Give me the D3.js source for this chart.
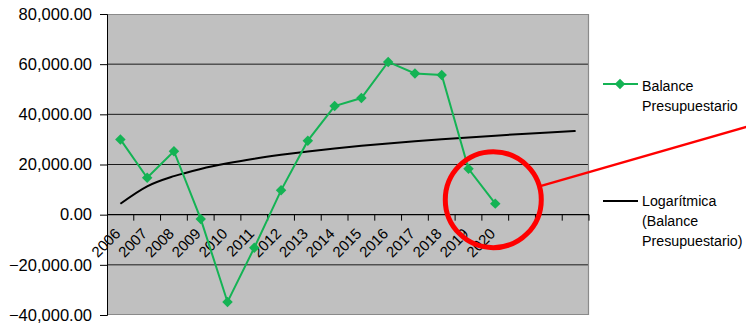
<!DOCTYPE html>
<html>
<head>
<meta charset="utf-8">
<script src="https://cdn.jsdelivr.net/npm/d3@7"></script>
<style>
  html, body { margin: 0; padding: 0; background: #fff; }
  svg { display: block; font-family: "Liberation Sans", Arial, sans-serif; }
</style>
</head>
<body>
<svg id="chart" width="746" height="325"></svg>
<script>
// Balance presupuestario por año
const years = ["2006","2007","2008","2009","2010","2011","2012","2013","2014","2015","2016","2017","2018","2019","2020"];
const balance = [30000, 14700, 25300, -1700, -34800, -13200, 9700, 29500, 43300, 46500, 60900, 56300, 55700, 18300, 4400];
// trend continues over three extra (unlabelled) periods
const extraPeriods = ["", "", ""];
const yTicks = [-40000, -20000, 0, 20000, 40000, 60000, 80000];
const seriesName = ["Balance", "Presupuestario"];
const trendName = ["Logarítmica", "(Balance", "Presupuestario)"];

const categories = years.concat(extraPeriods.map((d, i) => "p" + i));

const svg = d3.select("#chart");
const plotLeft = 107, plotRight = 589, plotTop = 14, plotBottom = 315;

const x = d3.scaleBand().domain(categories).range([plotLeft, plotRight]);
const cx = d => x(d) + x.bandwidth() / 2;
const y = d3.scaleLinear().domain([-40000, 80000]).range([plotBottom, plotTop]);

// logarithmic least-squares fit: y = a ln(t) + b, t = 1..n
const L = balance.map((_, i) => Math.log(i + 1));
const Lm = d3.mean(L), Ym = d3.mean(balance);
const slope = d3.sum(L, (l, i) => (l - Lm) * (balance[i] - Ym)) / d3.sum(L, l => (l - Lm) * (l - Lm));
const intercept = Ym - slope * Lm;
const trend = categories.map((c, i) => ({ c, v: slope * Math.log(i + 1) + intercept }));

// plot area
svg.append("rect")
  .attr("x", plotLeft).attr("y", plotTop)
  .attr("width", plotRight - plotLeft).attr("height", plotBottom - plotTop)
  .attr("fill", "#c0c0c0");

// horizontal gridlines
svg.append("g").selectAll("line")
  .data(yTicks.filter(t => t !== -40000 && t !== 80000 && t !== 0))
  .join("line")
  .attr("x1", plotLeft).attr("x2", plotRight)
  .attr("y1", d => y(d)).attr("y2", d => y(d))
  .attr("stroke", "#1a1a1a").attr("stroke-width", 1);

// top and right frame
svg.append("path")
  .attr("d", `M${plotLeft},${plotTop + 0.5}H${plotRight - 0.5}V${plotBottom}`)
  .attr("fill", "none").attr("stroke", "#8a8a8a").attr("stroke-width", 1.2);
svg.append("line")
  .attr("x1", plotLeft).attr("x2", plotRight)
  .attr("y1", plotBottom - 0.5).attr("y2", plotBottom - 0.5)
  .attr("stroke", "#8a8a8a");

// y axis
const yAxis = d3.axisLeft(y).tickValues(yTicks).tickSize(7).tickPadding(8)
  .tickFormat(d3.format(",.2f"));
const gy = svg.append("g").attr("transform", `translate(${plotLeft},0)`).call(yAxis);
gy.select(".domain").attr("stroke", "#000");
gy.selectAll(".tick line").attr("stroke", "#000");
gy.selectAll(".tick text")
  .attr("font-size", "16.5px").attr("fill", "#000")
  .attr("font-family", "Liberation Sans, Arial, sans-serif");

// x axis at zero, ticks between categories
const gx = svg.append("g").attr("transform", `translate(0,${y(0)})`);
gx.append("line").attr("x1", plotLeft).attr("x2", plotRight)
  .attr("stroke", "#000").attr("stroke-width", 1.2);
gx.selectAll("line.tk")
  .data(categories.slice(1).concat(["end"]))
  .join("line").attr("class", "tk")
  .attr("x1", d => d === "end" ? plotRight : x(d))
  .attr("x2", d => d === "end" ? plotRight : x(d))
  .attr("y1", 0).attr("y2", 6)
  .attr("stroke", "#000");
gx.selectAll("text")
  .data(years)
  .join("text")
  .attr("transform", d => `translate(${cx(d) + 1},${20}) rotate(-45)`)
  .attr("text-anchor", "end")
  .attr("font-size", "15px")
  .attr("fill", "#000")
  .text(d => d);

// trendline
svg.append("path")
  .datum(trend)
  .attr("fill", "none").attr("stroke", "#000").attr("stroke-width", 2)
  .attr("d", d3.line().x(d => cx(d.c)).y(d => y(d.v)).curve(d3.curveMonotoneX));

// data series
const green = "#14b354";
const series = years.map((yr, i) => ({ c: yr, v: balance[i] }));
svg.append("path")
  .datum(series)
  .attr("fill", "none").attr("stroke", green).attr("stroke-width", 2)
  .attr("d", d3.line().x(d => cx(d.c)).y(d => y(d.v)));
const diamond = d3.symbol().type(d3.symbolDiamond2).size(70);
svg.append("g").selectAll("path")
  .data(series)
  .join("path")
  .attr("transform", d => `translate(${cx(d.c)},${y(d.v)})`)
  .attr("d", diamond)
  .attr("fill", green);

// highlight around the last year
const last = series[series.length - 1];
const hx = cx(last.c) - 2, hy = y(last.v) - 4, hr = 48;
svg.append("circle")
  .attr("cx", hx).attr("cy", hy).attr("r", hr)
  .attr("fill", "none").attr("stroke", "#ff0000").attr("stroke-width", 5);
const ang = Math.atan2(127 - hy, 746 - hx);
svg.append("line")
  .attr("x1", hx + hr * Math.cos(ang)).attr("y1", hy + hr * Math.sin(ang))
  .attr("x2", 760).attr("y2", hy + (760 - hx) * Math.tan(ang))
  .attr("stroke", "#ff0000").attr("stroke-width", 2.5);

// legend
const lg = svg.append("g");
function legendText(lines, yPos) {
  lg.append("text")
    .attr("transform", `translate(642,${yPos}) scale(0.95,1)`)
    .attr("font-size", "15px").attr("fill", "#000")
    .selectAll("tspan").data(lines).join("tspan")
    .attr("x", 0).attr("dy", (d, i) => i === 0 ? "0.35em" : "20px").text(d => d);
}
lg.append("line").attr("x1", 603).attr("x2", 638).attr("y1", 84).attr("y2", 84)
  .attr("stroke", green).attr("stroke-width", 2);
lg.append("path").attr("transform", "translate(620,84)").attr("d", diamond).attr("fill", green);
legendText(seriesName, 85.5);
lg.append("line").attr("x1", 603).attr("x2", 638).attr("y1", 201).attr("y2", 201)
  .attr("stroke", "#000").attr("stroke-width", 2);
legendText(trendName, 201);
</script>
</body>
</html>
